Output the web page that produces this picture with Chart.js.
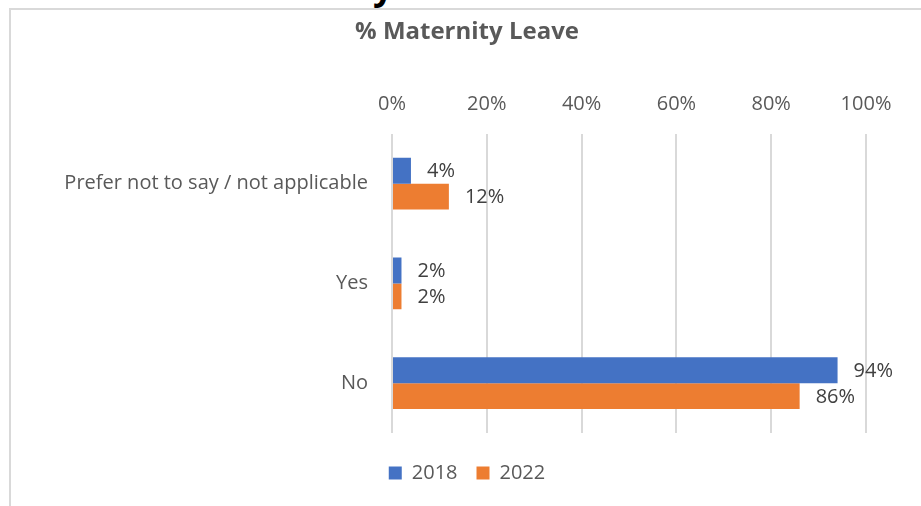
<!DOCTYPE html>
<html>
<head>
<meta charset="utf-8">
<script src="https://cdn.jsdelivr.net/npm/chart.js@4/dist/chart.umd.min.js"></script>
<style>
  html, body { margin: 0; padding: 0; background: #fff; overflow: hidden; }
  #wrap { position: relative; width: 921px; height: 506px; }
  #frame {
    position: absolute; left: 9px; top: 8px; width: 960px; height: 560px;
    border-left: 2px solid #d9d9d9; border-top: 2px solid #d9d9d9;
  }
  #heading {
    position: absolute; left: 373px; top: -39px; line-height: 36px;
    font: bold 36px "Open Sans", sans-serif; color: #000;
  }
  canvas { position: absolute; left: 0; top: 0; }
</style>
</head>
<body>
<div id="wrap">
  <div id="heading">y</div>
  <div id="frame"></div>
  <canvas id="leaveChart" width="921" height="506"></canvas>
</div>
<script>
// Survey answers, top to bottom
const categories = ['Prefer not to say / not applicable', 'Yes', 'No'];
const values2018 = [4, 2, 94];
const values2022 = [12, 2, 86];
const xTicks = [0, 20, 40, 60, 80, 100];

const FONT = '"Open Sans", sans-serif';

// Writes "NN%" just past the end of every bar
const barLabels = {
    id: 'barLabels',
    afterDatasetsDraw(chart) {
        const ctx = chart.ctx;
        ctx.save();
        ctx.font = '20px ' + FONT;
        ctx.fillStyle = '#404040';
        ctx.textAlign = 'left';
        ctx.textBaseline = 'middle';
        chart.data.datasets.forEach((ds, i) => {
            chart.getDatasetMeta(i).data.forEach((bar, j) => {
                ctx.fillText(ds.data[j] + '%', bar.x + 16, bar.y + 1);
            });
        });
        ctx.restore();
    }
};

// The long category name is wider than the y axis box; let it spill left
// instead of being clipped at the box edge.
const unclipYLabels = {
    id: 'unclipYLabels',
    afterLayout(chart) {
        chart.scales.y.left = 0;
    }
};

const ctx = document.getElementById('leaveChart').getContext('2d');
new Chart(ctx, {
    type: 'bar',
    data: {
        labels: categories,
        datasets: [
            { label: '2018', data: values2018, backgroundColor: '#4472C4' },
            { label: '2022', data: values2022, backgroundColor: '#ED7D31' }
        ]
    },
    options: {
        indexAxis: 'y',
        responsive: false,
        animation: false,
        categoryPercentage: 0.52,
        barPercentage: 1,
        layout: { padding: { left: 68, right: 55, top: 0, bottom: 13 } },
        scales: {
            x: {
                position: 'top',
                min: 0,
                max: 100,
                afterBuildTicks(scale) {
                    scale.ticks = xTicks.map(v => ({ value: v }));
                },
                grid: { color: '#d9d9d9', lineWidth: 2, drawTicks: false },
                border: { display: false },
                ticks: {
                    padding: 18,
                    color: '#595959',
                    font: { family: FONT, size: 20 },
                    callback: v => v + '%'
                }
            },
            y: {
                grid: { display: false, drawTicks: false },
                border: { display: false },
                afterFit(scale) { scale.width = 324; },
                ticks: {
                    padding: 24,
                    color: '#595959',
                    font: { family: FONT, size: 20 }
                }
            }
        },
        plugins: {
            title: {
                display: true,
                text: '% Maternity Leave',
                color: '#595959',
                font: { family: FONT, size: 24, weight: 'bold' },
                padding: { top: 18, bottom: 27 }
            },
            legend: {
                position: 'bottom',
                title: { display: true, text: '', font: { size: 0 }, padding: { top: 11, bottom: 0 } },
                labels: {
                    boxWidth: 13,
                    boxHeight: 13,
                    padding: 19,
                    color: '#595959',
                    font: { family: FONT, size: 20 }
                }
            },
            tooltip: { enabled: false }
        }
    },
    plugins: [barLabels, unclipYLabels]
});
</script>
</body>
</html>
